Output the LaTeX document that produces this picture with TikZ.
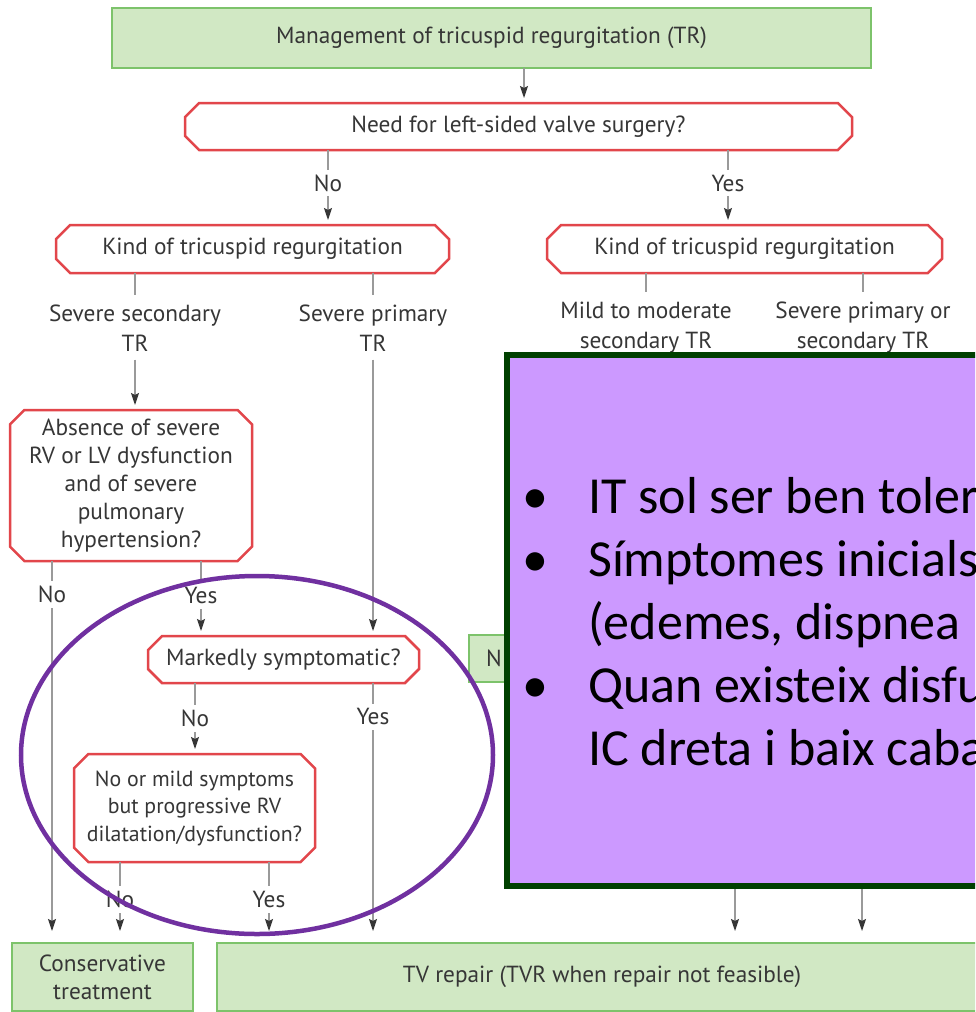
\documentclass[tikz,border=0pt]{standalone}
\usepackage{fontspec}
\setmainfont{PT Sans}
\newfontfamily\slidefont{Carlito}
\usepackage{tikz}
\usetikzlibrary{arrows.meta,positioning,shapes.misc}

\definecolor{boxgreen}{HTML}{D1E8C4}
\definecolor{edgegreen}{HTML}{7DC36B}
\definecolor{edgered}{HTML}{E2464B}
\definecolor{linegray}{HTML}{9A9A9A}
\definecolor{textgray}{HTML}{363636}
\definecolor{notefill}{HTML}{CC99FF}
\definecolor{noteedge}{HTML}{004000}
\definecolor{ringpurple}{HTML}{7030A0}

\begin{document}
\begin{tikzpicture}[
			x=1pt, y=-1pt,
			every node/.style={font=\fontsize{23.3}{28}\selectfont, text=textgray},
			outcome/.style={rectangle, draw=edgegreen, fill=boxgreen, line width=2.5pt, align=center, inner sep=0pt, outer sep=0pt},
			question/.style={chamfered rectangle, chamfered rectangle xsep=11pt, draw=edgered, fill=white, line width=2.5pt, align=center, inner sep=0pt, outer sep=0pt},
			kind/.style={align=center, inner sep=0pt, font=\fontsize{23.3}{30}\selectfont},
			answer/.style={fill=white, inner xsep=1pt, inner ysep=5pt},
			arrow/.style={draw=linegray, line width=1.3pt, shorten >=5pt, -{Stealth[length=12pt, width=8pt, inset=2pt, color=textgray]}},
			branch/.style={draw=linegray, line width=1.3pt},
			note/.style={rectangle, draw=noteedge, fill=notefill, line width=6pt, outer sep=0pt},
			point/.style={font=\slidefont\fontsize{52}{63}\selectfont, text=black, inner sep=0pt},
			ring/.style={draw=ringpurple, line width=4.5pt}
		]

		% Canvas
		\fill[white] (0,0) rectangle (975,1012);
		\path[use as bounding box] (0,0) rectangle (975,1012);
		\clip (0,0) rectangle (975,1012);

		% Columns
		\coordinate (c52) at (52,0);
		\coordinate (c120) at (120,0);
		\coordinate (c195) at (195,0);
		\coordinate (c201) at (201,0);
		\coordinate (c269) at (269,0);
		\coordinate (c328) at (328,0);
		\coordinate (c524) at (524,0);
		\coordinate (c728) at (728,0);
		\coordinate (h1) at (735,870);
		\coordinate (h2) at (862,870);

		% Nodes
		\node (mgmt) [outcome, minimum width=759pt, minimum height=60pt] at (491.5,38) {Management of tricuspid regurgitation (TR)};
		\node (need) [question, minimum width=667pt, minimum height=47pt] at (518.5,126.5) {Need for left-sided valve surgery?};
		\node (kindL) [question, minimum width=393pt, minimum height=48pt] at (252.5,249) {Kind of tricuspid regurgitation};
		\node (kindR) [question, minimum width=395pt, minimum height=48pt] at (744.5,249) {Kind of tricuspid regurgitation};

		\node (sec) [kind] at (135,328) {Severe secondary\\TR};
		\node (prim) [kind] at (373,328) {Severe primary\\TR};
		\node (mild) [kind] at (646,328) {Mild to moderate\\secondary TR};
		\node (sevr) [kind] at (863,328) {Severe primary or\\secondary TR};

		\node (absence) [question, minimum width=242pt, minimum height=151pt] at (131,485.5) {Absence of severe\\RV or LV dysfunction\\and of severe\\pulmonary\\hypertension?};
		\node (marked) [question, minimum width=271pt, minimum height=47pt] at (283.5,659.5) {Markedly symptomatic?};
		\node (mildsym) [question, minimum width=241pt, minimum height=108pt, font=\fontsize{21.8}{27.5}\selectfont] at (194.5,808) {No or mild symptoms\\but progressive RV\\dilatation/dysfunction?};
		\node (other) [outcome, anchor=west, minimum height=47pt, text width=100pt, align=left, inner xsep=17pt] at (469,658.5) {N};

		\node (cons) [outcome, minimum width=181pt, minimum height=68pt] at (102.5,977) {Conservative\\treatment};
		\node (tvr) [outcome, minimum width=770pt, minimum height=68pt] at (602,977) {TV repair (TVR when repair not feasible)};

		% Connections
		\draw [arrow] (mgmt.south -| c524) -- (need.north -| c524);
		\draw [arrow] (need.south -| c328) -- node[answer, pos=.44] {No} (kindL.north -| c328);
		\draw [arrow] (need.south -| c728) -- node[answer, pos=.44] {Yes} (kindR.north -| c728);
		\draw [branch, shorten >=10pt] (kindL.south -| sec) -- (sec.north);
		\draw [branch, shorten >=10pt] (kindL.south -| prim) -- (prim.north);
		\draw [branch, shorten >=10pt] (kindR.south -| mild) -- (mild.north);
		\draw [branch, shorten >=10pt] (kindR.south -| sevr) -- (sevr.north);
		\draw [arrow, shorten <=8pt] (sec.south) -- (absence.north -| sec);
		\draw [arrow, shorten <=8pt] (prim.south) -- (marked.north -| prim);
		\draw [arrow, shorten >=12pt] (absence.south -| c52) -- node[answer, pos=.087] {No} (cons.north -| c52);
		\draw [arrow] (absence.south -| c201) -- node[answer, pos=.46] {Yes} (marked.north -| c201);
		\draw [arrow] (marked.south -| c195) -- node[answer, pos=.5] {No} (mildsym.north -| c195);
		\draw [arrow, shorten >=12pt] (marked.south -| prim) -- node[answer, pos=.13] {Yes} (tvr.north -| prim);
		\draw [arrow, shorten >=12pt] (mildsym.south -| c120) -- node[answer, pos=.46] {No} (cons.north -| c120);
		\draw [arrow, shorten >=12pt] (mildsym.south -| c269) -- node[answer, pos=.46] {Yes} (tvr.north -| c269);
		\draw [arrow, shorten >=12pt] (h1) -- (tvr.north -| h1);
		\draw [arrow, shorten >=12pt] (h2) -- (tvr.north -| h2);

		% Overlay
		\draw [ring] (257,755) ellipse [x radius=236pt, y radius=179pt];
		\node (note) [note, anchor=north west, minimum width=520pt, minimum height=531pt] at (507,355) {};
		\node (p1) [point, anchor=base west] at (588,513) {\llap{\textbullet\hspace{40pt}}IT sol ser ben toler};
		\node (p2) [point, anchor=base west] at (588,576) {\llap{\textbullet\hspace{40pt}}Símptomes inicials};
		\node (p3) [point, anchor=base west] at (588,639) {(edemes, dispnea};
		\node (p4) [point, anchor=base west] at (588,702) {\llap{\textbullet\hspace{40pt}}Quan existeix disfu};
		\node (p5) [point, anchor=base west] at (588,765) {IC dreta i baix caba};

	\end{tikzpicture}
\end{document}
